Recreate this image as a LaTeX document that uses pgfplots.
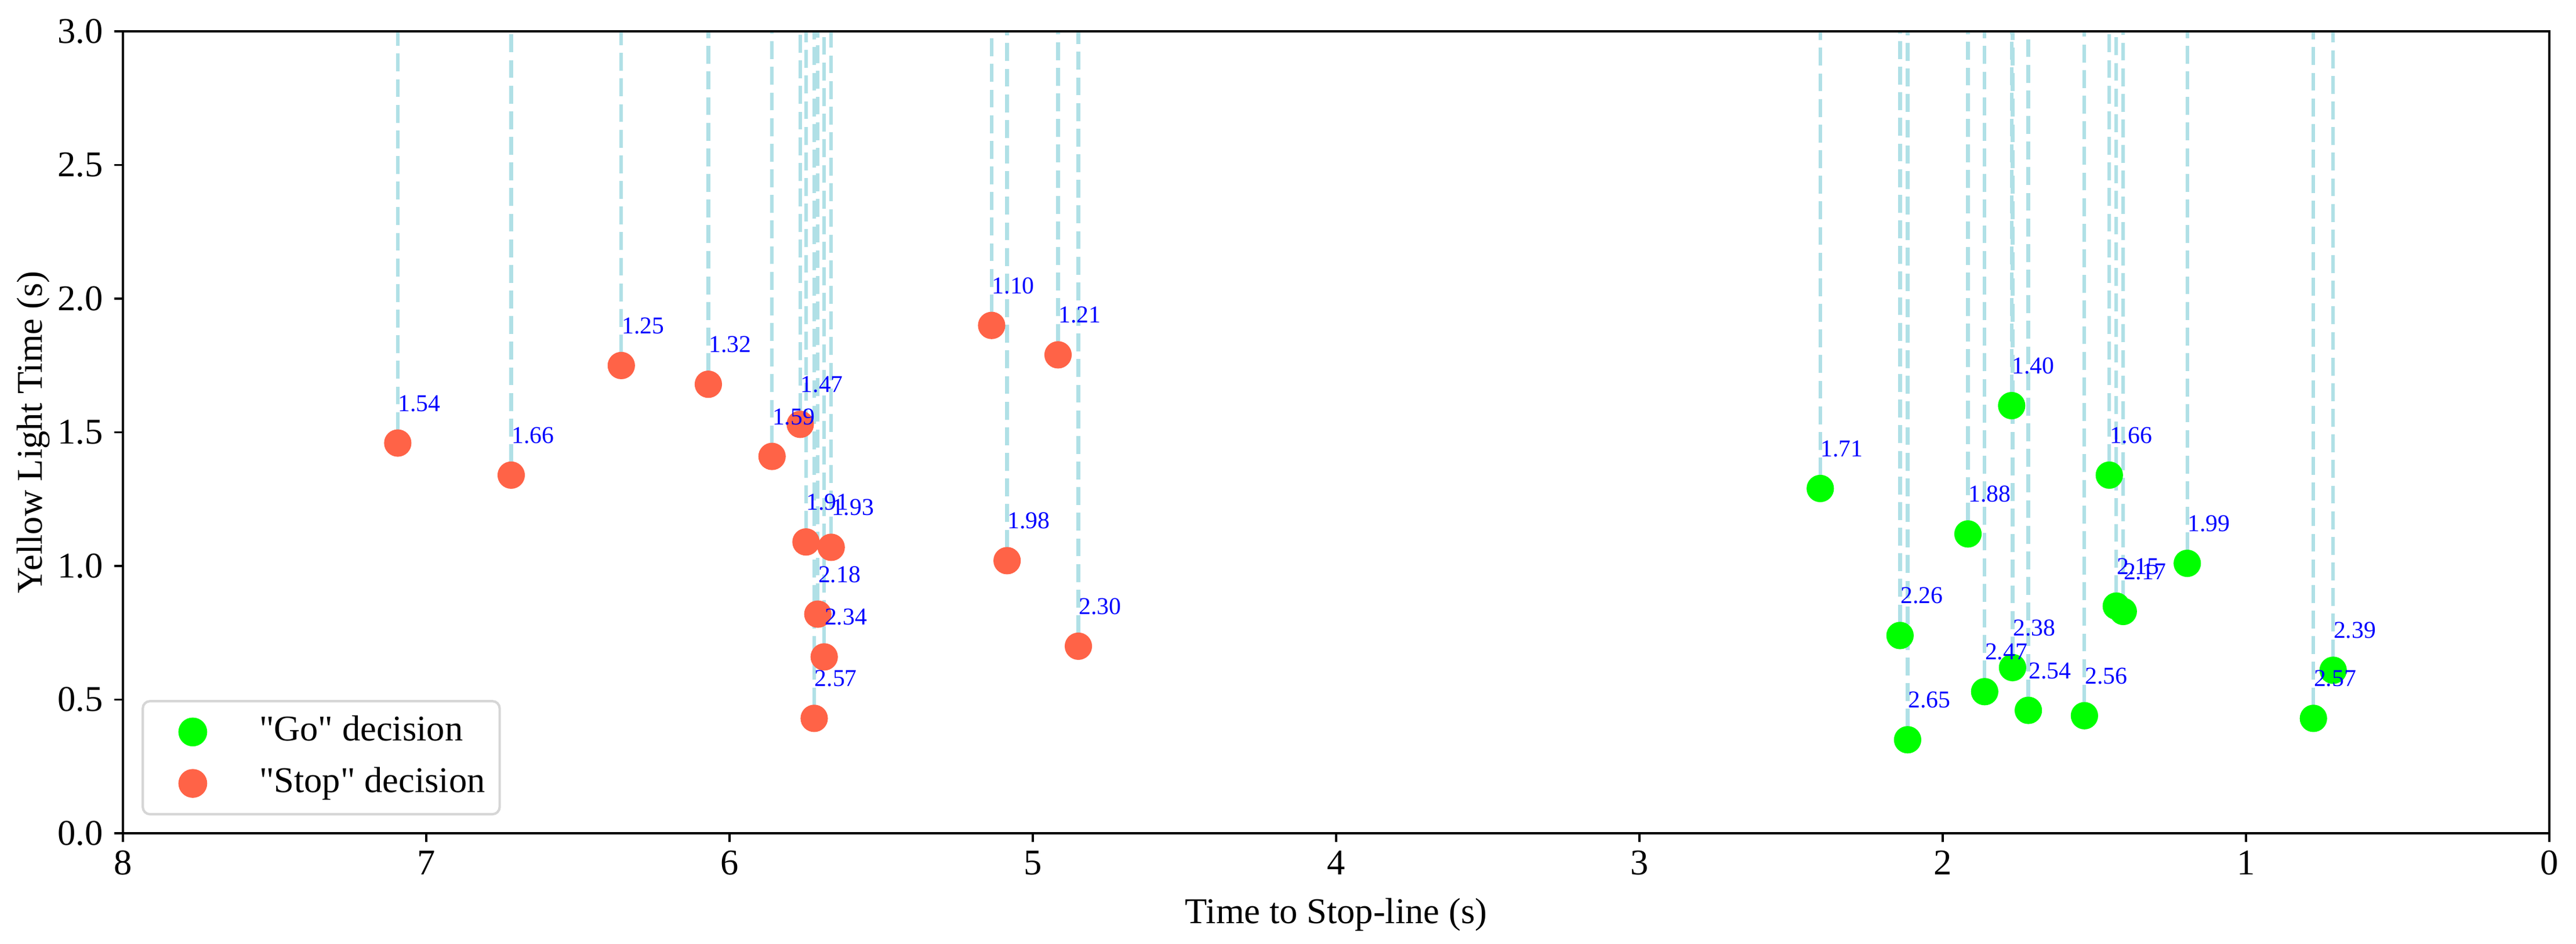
\documentclass[border=0pt]{standalone}
\usepackage{pgfplots}
\pgfplotsset{compat=1.18}
\usepackage{pgfplotstable}
\usepackage{fontspec}
\setmainfont{Liberation Serif}
\newfontfamily\plainserif{Liberation Serif}[Ligatures=Common]
\usetikzlibrary{calc}

\definecolor{goGreen}{HTML}{00FF00}
\definecolor{stopRed}{HTML}{FF6347}
\definecolor{powder}{HTML}{B0E0E6}
\definecolor{legendgray}{HTML}{D6D6D6}

\pgfplotstableread{
x y label
7.094 1.46 1.54
6.720 1.34 1.66
6.357 1.75 1.25
6.070 1.68 1.32
5.860 1.41 1.59
5.767 1.53 1.47
5.748 1.09 1.91
5.665 1.07 1.93
5.709 0.82 2.18
5.688 0.66 2.34
5.721 0.43 2.57
5.136 1.90 1.10
4.917 1.79 1.21
5.085 1.02 1.98
4.850 0.70 2.30
}\stopdata

\pgfplotstableread{
x y label
2.404 1.29 1.71
1.773 1.60 1.40
1.451 1.34 1.66
1.917 1.12 1.88
1.194 1.01 1.99
1.428 0.85 2.15
1.405 0.83 2.17
2.141 0.74 2.26
1.770 0.62 2.38
1.862 0.53 2.47
1.718 0.46 2.54
1.533 0.44 2.56
2.116 0.35 2.65
0.778 0.43 2.57
0.713 0.61 2.39
}\godata

\pgfplotsset{
  myleg/.style={legend image code/.code={%
    \path[draw=none, fill=none] (0pt,-6pt) rectangle (30pt,6pt);
    \draw[##1] plot coordinates {(14.7pt,0pt)};}},
  vline/.style={forget plot, only marks, mark=*, mark options={opacity=0},
    error bars/.cd, y dir=plus, y fixed=3, error mark=none,
    error bar style={color=powder, line width=1.5pt, dash pattern=on 7.4pt off 3.2pt, yshift=5.4pt}},
  vlabel/.style={forget plot, only marks, mark=*, mark options={opacity=0},
    point meta=explicit symbolic,
    nodes near coords,
    every node near coord/.append style={anchor=base west, inner sep=0pt, yshift=13.2pt,
      font=\fontsize{10}{12}\selectfont, text=blue, opacity=1}},
}

\begin{document}
\begin{tikzpicture}
\begin{axis}[
  scale only axis, width=1004.2pt, height=331.9pt,
  xmin=0, xmax=8, ymin=0, ymax=3, x dir=reverse,
  xtick={0,1,...,8}, ytick={0,0.5,...,3},
  y tick label style={/pgf/number format/fixed, /pgf/number format/fixed zerofill, /pgf/number format/precision=1},
  /pgf/number format/assume math mode=true,
  tick align=outside, tick pos=left,
  major tick length=3.5pt,
  every tick/.style={black, line width=0.8pt},
  axis line style={line width=0.8pt},
  axis on top,
  ticklabel style={font=\fontsize{15}{18}\selectfont},
  xticklabel style={anchor=north, inner sep=0pt, yshift=-3.5pt},
  yticklabel style={anchor=east, inner sep=0pt, xshift=-4.5pt},
  xlabel={Time to Stop-line (s)},
  ylabel={Yellow Light Time (s)},
  label style={font=\fontsize{15}{18}\selectfont},
  xlabel style={at={(rel axis cs:0.5,0)}, anchor=base, yshift=-37.4pt},
  ylabel style={at={($(rel axis cs:0,0.5)+(-33.4pt,0pt)$)}, anchor=base},
  legend cell align=left,
  legend style={
    at={(rel axis cs:0,0)}, anchor=south west, xshift=7.7pt, yshift=7.4pt,
    draw=legendgray, line width=1pt, rounded corners=3pt,
    inner xsep=6pt, inner ysep=5.85pt,
    row sep=7.5pt, column sep=12.2pt,
    nodes={inner sep=0pt, font=\fontsize{15}{18}\plainserif, text height=10.5pt, text depth=3.3pt},
  },
]
\addplot[only marks, mark=*, mark size=5.46pt, color=goGreen,
  mark options={draw=none, fill=goGreen}, myleg] table[x=x, y=y] {\godata};
\addlegendentry{"Go" decision}
\addplot[only marks, mark=*, mark size=5.46pt, color=stopRed,
  mark options={draw=none, fill=stopRed}, myleg] table[x=x, y=y] {\stopdata};
\addlegendentry{"Stop" decision}

\addplot[vline] table[x=x, y=y] {\stopdata};
\addplot[vline] table[x=x, y=y] {\godata};

\addplot[vlabel] table[x=x, y=y, meta=label] {\stopdata};
\addplot[vlabel] table[x=x, y=y, meta=label] {\godata};

\coordinate (A) at (rel axis cs:0,0);
\coordinate (B) at (rel axis cs:1,1);
\end{axis}
\path ([shift={(-50.9pt,-45.8pt)}]A) rectangle ([shift={(11pt,13pt)}]B);
\end{tikzpicture}
\end{document}
